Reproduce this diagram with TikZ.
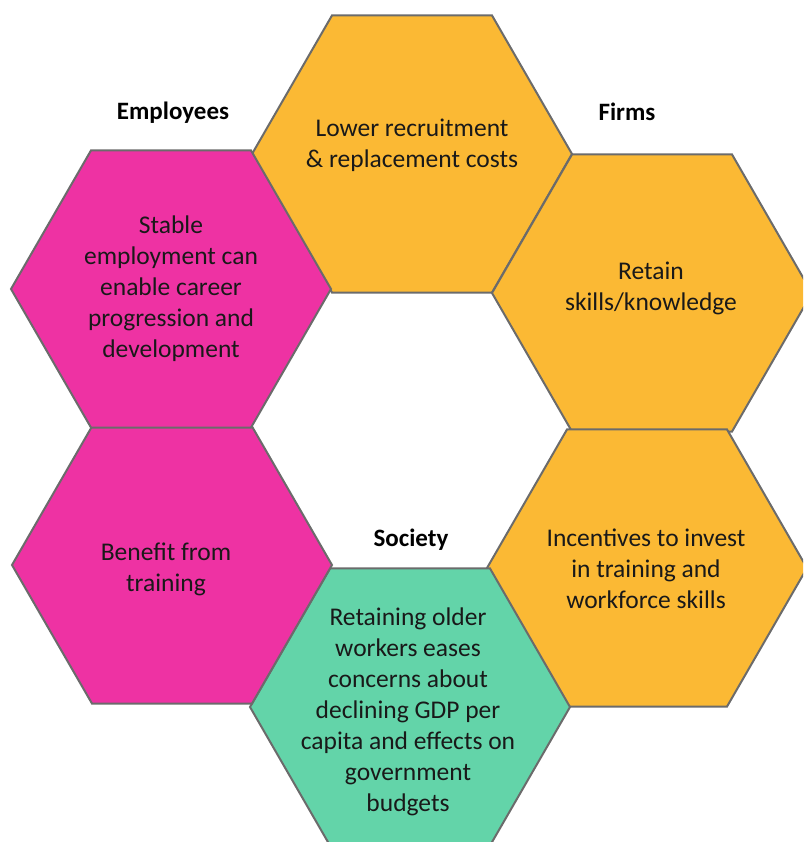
\documentclass[tikz,border=0pt]{standalone}
\usepackage{fontspec}
\setmainfont{Carlito}

\definecolor{hexorange}{HTML}{FBB934}
\definecolor{hexpink}{HTML}{EE32A3}
\definecolor{hexgreen}{HTML}{63D4A9}
\definecolor{hexedge}{HTML}{6B6B6B}

\tikzset{
  hexcell/.style={draw=hexedge, line width=2pt, line join=miter},
  celltext/.style={align=center, text=black!90, font=\fontsize{25.5}{31}\selectfont},
  grouplabel/.style={font=\bfseries\fontsize{25}{30}\selectfont}
}

\begin{document}
\begin{tikzpicture}[x=1pt, y=-1pt]
    \useasboundingbox (0,0) rectangle (803,842);
    \clip (0,0) rectangle (803,842);

    % Centres of the six cells of the ring
    \coordinate (recruit) at (412,154);
    \coordinate (retain)  at (652,293);
    \coordinate (invest)  at (647,568);
    \coordinate (older)   at (410,707);
    \coordinate (benefit) at (172,565);
    \coordinate (stable)  at (171,289);

    % Honeycomb ring of hexagons
    \foreach \c/\col in {recruit/hexorange, retain/hexorange, invest/hexorange,
                         older/hexgreen, benefit/hexpink, stable/hexpink}
        \draw[hexcell, fill=\col, shift={(\c)}]
            (0:160) -- (60:160) -- (120:160) -- (180:160) -- (240:160) -- (300:160) -- cycle;

    % Firms
    \node[celltext] (recruittxt) at (412,145) {Lower recruitment\\\& replacement costs};
    \node[celltext] (retaintxt)  at (651,288) {Retain\\skills/knowledge};
    \node[celltext] (investtxt)  at (646,569) {Incentives to invest\\in training and\\workforce skills};

    % Society
    \node[celltext] (oldertxt) at (408,712) {Retaining older\\workers eases\\concerns about\\declining GDP per\\capita and effects on\\government\\budgets};

    % Employees
    \node[celltext] (stabletxt)  at (171,289) {Stable\\employment can\\enable career\\progression and\\development};
    \node[celltext] (benefittxt) at (166,569) {Benefit from\\training};

    % Group labels in the gaps
    \node[grouplabel] (employees) at (173,113) {Employees};
    \node[grouplabel] (firms)     at (627,112) {Firms};
    \node[grouplabel] (society)   at (411,540) {Society};
\end{tikzpicture}
\end{document}
